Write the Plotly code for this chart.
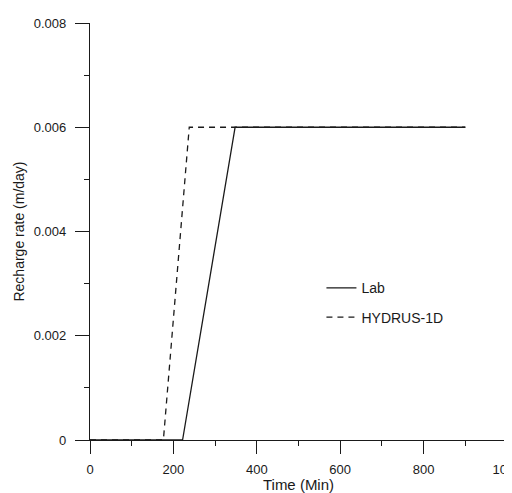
import plotly.graph_objects as go

# Data
lab_time = [0, 222, 348, 900]
lab_rate = [0, 0, 0.006, 0.006]
hyd_time = [0, 176, 238, 900]
hyd_rate = [0, 0, 0.006, 0.006]

x_ticks = [0, 200, 400, 600, 800, 1000]
x_labels = ["0", "200", "400", "600", "800", "1000"]
y_ticks = [0, 0.002, 0.004, 0.006, 0.008]
y_labels = ["0", "0.002", "0.004", "0.006", "0.008"]

ink = "#1a1a1a"
fig = go.Figure()
fig.add_trace(go.Scatter(x=hyd_time, y=hyd_rate, mode="lines", name="HYDRUS-1D",
                         line=dict(color=ink, width=1.3, dash="6px,5px"),
                         legendgroup="b", legendrank=2))
fig.add_trace(go.Scatter(x=lab_time, y=lab_rate, mode="lines", name="Lab",
                         line=dict(color=ink, width=1.3),
                         legendgroup="a", legendrank=1))

font = dict(family="Liberation Sans, Arial, sans-serif", color=ink)
# page body has an 8px default margin, so the figure is sized to compensate
fig.update_layout(
    width=504, height=485,
    margin=dict(l=82, r=5, t=15, b=53, autoexpand=False),
    paper_bgcolor="white", plot_bgcolor="white",
    font=dict(size=13, **font),
    showlegend=True,
    legend=dict(x=0.555, y=0.402, xanchor="left", yanchor="top",
                bgcolor="rgba(0,0,0,0)", font=dict(size=14, **font),
                traceorder="grouped", tracegroupgap=8, itemwidth=30),
    xaxis=dict(range=[0, 1000], tickvals=x_ticks, ticktext=x_labels,
               showline=True, linecolor=ink, linewidth=1.2,
               ticks="outside", ticklen=13, tickwidth=1.2, tickcolor=ink,
               minor=dict(dtick=100, ticks="outside", ticklen=5, tickwidth=1.2, tickcolor=ink),
               showgrid=False, zeroline=False, ticklabelstandoff=4,
               ticklabeloverflow="allow", automargin=False,
               title=dict(text="Time (Min)", font=dict(size=15, **font), standoff=0),
               tickfont=dict(size=13, **font)),
    yaxis=dict(range=[0, 0.008], tickvals=y_ticks, ticktext=y_labels,
               showline=True, linecolor=ink, linewidth=1.2,
               ticks="outside", ticklen=14, tickwidth=1.2, tickcolor=ink,
               minor=dict(dtick=0.001, ticks="outside", ticklen=5, tickwidth=1.2, tickcolor=ink),
               showgrid=False, zeroline=False, ticklabelstandoff=6, automargin=False,
               title=dict(text="Recharge rate (m/day)", font=dict(size=14, **font), standoff=5),
               tickfont=dict(size=13, **font)),
)
fig.write_html("out.html")
